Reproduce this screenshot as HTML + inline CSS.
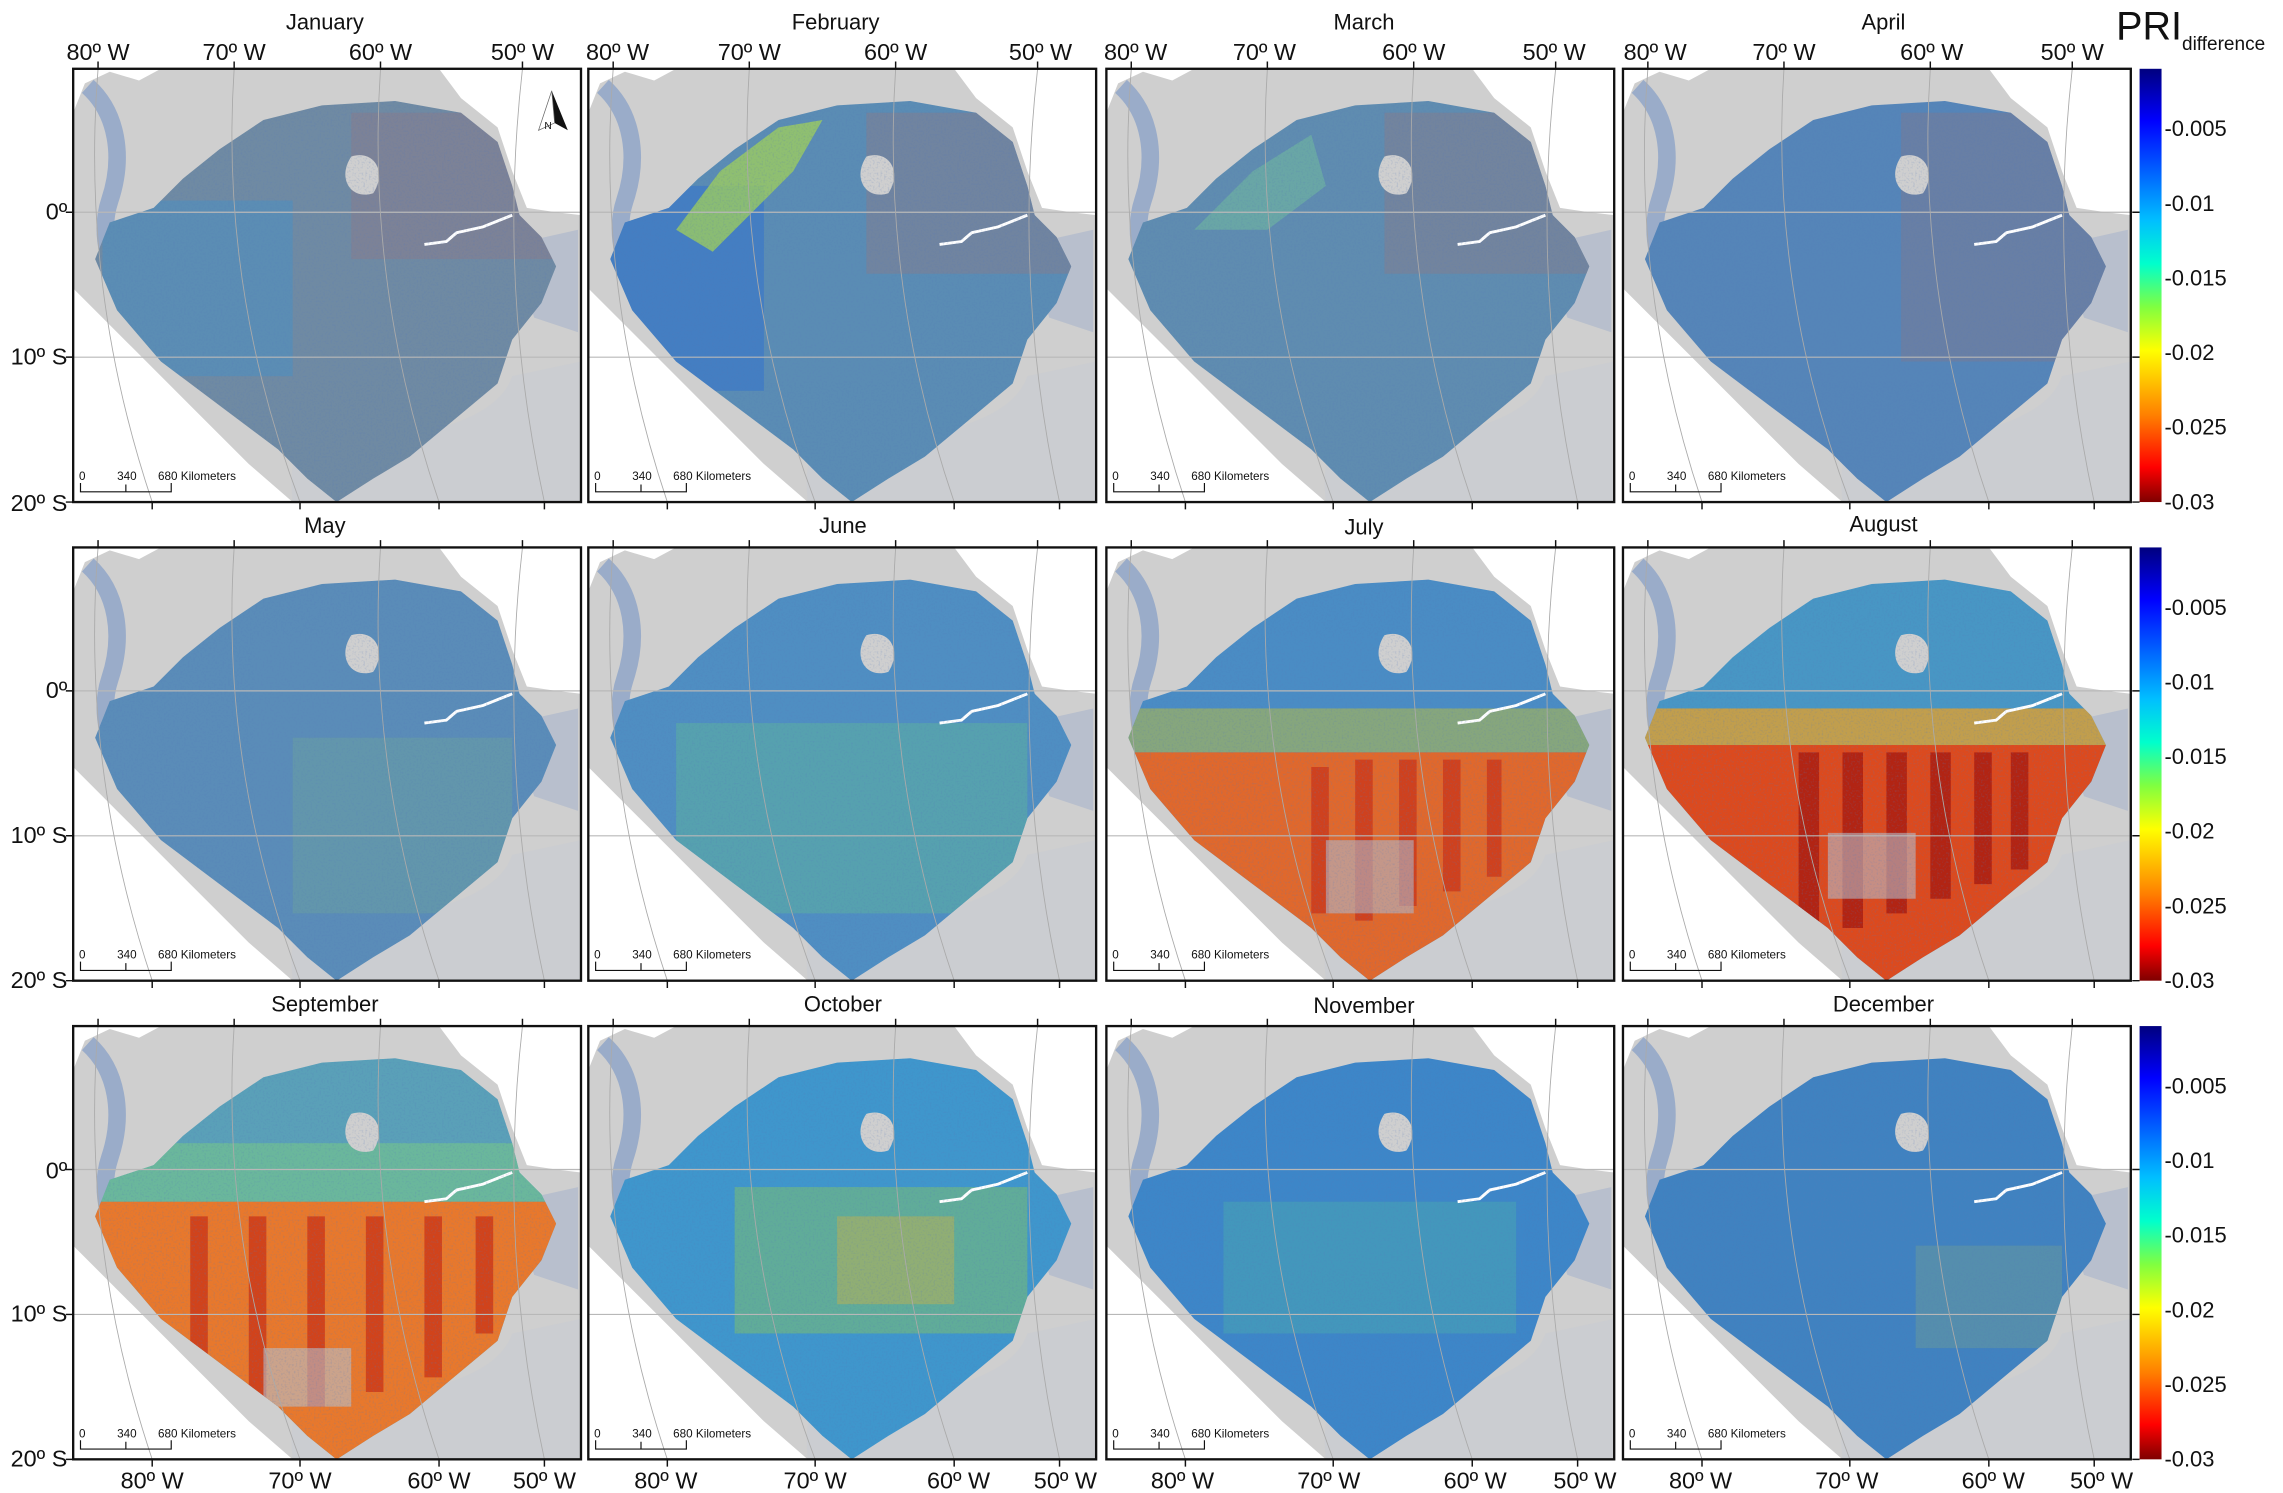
<!DOCTYPE html>
<html><head><meta charset="utf-8"><style>
html,body{margin:0;padding:0;background:#fff;}
svg{display:block;}
text{font-family:"Liberation Sans",Arial,sans-serif;fill:#111;}
</style></head><body>
<svg width="2283" height="1493" viewBox="0 0 1560 1020" preserveAspectRatio="none" xmlns="http://www.w3.org/2000/svg">
<defs>
<clipPath id="pc"><rect x="0" y="0" width="347" height="296"/></clipPath>
<clipPath id="ac"><path d="M55,95 L75,75 100,55 130,35 170,25 220,22 265,30 290,50 300,80 305,100 320,115 330,135 320,160 300,185 290,215 260,240 230,265 205,280 180,296 160,280 140,260 100,230 60,200 30,165 15,130 25,105 Z"/></clipPath>
<linearGradient id="cb" x1="0" y1="0" x2="0" y2="1">
<stop offset="0" stop-color="#00007f"/><stop offset="0.12" stop-color="#0000ff"/><stop offset="0.35" stop-color="#00bfff"/><stop offset="0.45" stop-color="#00ffcc"/><stop offset="0.55" stop-color="#80ff40"/><stop offset="0.65" stop-color="#ffff00"/><stop offset="0.8" stop-color="#ff7f00"/><stop offset="0.92" stop-color="#ff0000"/><stop offset="1" stop-color="#7f0000"/>
</linearGradient>
<filter id="spk" x="0" y="0" width="100%" height="100%"><feTurbulence type="fractalNoise" baseFrequency="0.8" numOctaves="1" seed="4"/><feColorMatrix type="matrix" values="0 0 0 0 0.1  0 0 0 0 0.2  0 0 0 0 0.5  0 0 0 2.2 -1.1"/></filter>
<g id="base">
<rect x="0" y="0" width="347" height="296" fill="#fff"/>
<path d="M0,30 L8,10 25,2 45,8 60,0 250,0 265,20 290,40 300,70 310,95 330,98 347,100 347,296 150,296 120,270 80,230 40,190 10,160 0,150 Z" fill="#cfcfcf"/>
<path d="M10,12 C30,30 35,60 25,90 C15,120 30,160 70,200" stroke="#6f8fc4" stroke-width="12" fill="none" opacity="0.55"/>
<path d="M300,120 L345,110 345,180 315,170 Z" fill="#a8b4cc" opacity="0.6"/>
<path d="M150,296 C145,250 165,240 200,255 C240,250 290,240 300,210 L347,200 L347,296 Z" fill="#c8ccd4" opacity="0.5"/>
</g>
<path id="amz" d="M55,95 L75,75 100,55 130,35 170,25 220,22 265,30 290,50 300,80 305,100 320,115 330,135 320,160 300,185 290,215 260,240 230,265 205,280 180,296 160,280 140,260 100,230 60,200 30,165 15,130 25,105 Z"/>
<g id="top">
<path d="M190,60 C205,55 215,70 205,85 C190,90 180,75 190,60 Z" fill="#cfcfcf"/>
<path d="M240,120 L255,118 262,112 280,108 300,100" stroke="#fff" stroke-width="2" fill="none"/>
<rect x="0" y="0" width="347" height="296" filter="url(#spk)" clip-path="url(#ac)" opacity="0.35"/>
<line x1="0" y1="98" x2="347" y2="98" stroke="#b8b8b8" stroke-width="0.8"/>
<line x1="0" y1="197" x2="347" y2="197" stroke="#b8b8b8" stroke-width="0.8"/>
<path d="M17,0 Q5,150 54,296 M110,0 Q100,150 155,296 M210,0 Q200,150 250,296 M307,0 Q290,150 322,296" stroke="#aaa" stroke-width="0.6" fill="none"/>
</g>
<g id="frame">
<rect x="0" y="0" width="347" height="296" fill="none" stroke="#111" stroke-width="1.6"/>
<path d="M17,0 v-5 M110,0 v-5 M210,0 v-5 M307,0 v-5 M54,296 v5 M155,296 v5 M250,296 v5 M322,296 v5" stroke="#111" stroke-width="1"/>
<path d="M5,283 v6 h62 v-6 M36,289 v-5" stroke="#111" stroke-width="0.8" fill="none"/>
<text x="4" y="281" font-size="8">0</text><text x="30" y="281" font-size="8">340</text><text x="58" y="281" font-size="8">680 Kilometers</text>
</g>
<g id="cbar">
<rect x="0" y="0" width="15" height="296" fill="url(#cb)"/>
<path d="M-5,98 h5 M-5,197 h5 M-5,296 h5" stroke="#111" stroke-width="1"/>
<text x="17" y="46" font-size="15">-0.005</text><text x="17" y="97" font-size="15">-0.01</text><text x="17" y="148" font-size="15">-0.015</text><text x="17" y="199" font-size="15">-0.02</text><text x="17" y="250" font-size="15">-0.025</text><text x="17" y="301" font-size="15">-0.03</text>
</g>
</defs>

<!-- Row 1 -->
<g transform="translate(50,47)"><g clip-path="url(#pc)"><use href="#base"/><use href="#amz" fill="#6f8aa3"/><g clip-path="url(#ac)"><rect x="20" y="90" width="130" height="120" fill="#4f8fbf" opacity="0.6"/><rect x="190" y="30" width="140" height="100" fill="#8a7a8c" opacity="0.5"/></g><use href="#top"/></g><use href="#frame"/>
<path d="M327,15 L338,42 329,37 Z" fill="#111"/><path d="M327,15 L318,42 329,37 Z" fill="#fff" stroke="#666" stroke-width="0.5"/><text x="322" y="41" font-size="7">N</text></g>
<g transform="translate(402,47)"><g clip-path="url(#pc)"><use href="#base"/><use href="#amz" fill="#5a8cb4"/><g clip-path="url(#ac)"><rect x="0" y="80" width="120" height="140" fill="#3a78c8" opacity="0.7"/><path d="M60,110 L90,70 130,40 160,35 140,70 110,100 85,125 Z" fill="#9ccc60" opacity="0.8"/><rect x="190" y="30" width="140" height="110" fill="#867c8c" opacity="0.5"/></g><use href="#top"/></g><use href="#frame"/></g>
<g transform="translate(756,47)"><g clip-path="url(#pc)"><use href="#base"/><use href="#amz" fill="#5f8cb0"/><g clip-path="url(#ac)"><path d="M60,110 L100,70 140,45 150,80 110,110 Z" fill="#70b8a0" opacity="0.6"/><rect x="190" y="30" width="140" height="110" fill="#867c8c" opacity="0.5"/></g><use href="#top"/></g><use href="#frame"/></g>
<g transform="translate(1109,47)"><g clip-path="url(#pc)"><use href="#base"/><use href="#amz" fill="#5585b8"/><g clip-path="url(#ac)"><rect x="190" y="30" width="140" height="170" fill="#80788e" opacity="0.45"/></g><use href="#top"/></g><use href="#frame"/></g>

<!-- Row 2 -->
<g transform="translate(50,374)"><g clip-path="url(#pc)"><use href="#base"/><use href="#amz" fill="#5a8cb8"/><g clip-path="url(#ac)"><rect x="150" y="130" width="150" height="120" fill="#6aa0a0" opacity="0.5"/></g><use href="#top"/></g><use href="#frame"/></g>
<g transform="translate(402,374)"><g clip-path="url(#pc)"><use href="#base"/><use href="#amz" fill="#4f8ec2"/><g clip-path="url(#ac)"><rect x="60" y="120" width="240" height="130" fill="#5cb0a0" opacity="0.55"/></g><use href="#top"/></g><use href="#frame"/></g>
<g transform="translate(756,374)"><g clip-path="url(#pc)"><use href="#base"/><use href="#amz" fill="#4a8cc4"/><g clip-path="url(#ac)"><rect x="0" y="110" width="347" height="30" fill="#a0b060" opacity="0.7"/><rect x="0" y="140" width="347" height="160" fill="#e0682c"/><path d="M140,150 h12 v100 h-12 Z M170,145 h12 v110 h-12 Z M200,145 h12 v100 h-12 Z M230,145 h12 v90 h-12 Z M260,145 h10 v80 h-10 Z" fill="#c83018" opacity="0.7"/><rect x="150" y="200" width="60" height="50" fill="#b0b8c8" opacity="0.6"/></g><use href="#top"/></g><use href="#frame"/></g>
<g transform="translate(1109,374)"><g clip-path="url(#pc)"><use href="#base"/><use href="#amz" fill="#4896c4"/><g clip-path="url(#ac)"><rect x="0" y="110" width="347" height="30" fill="#e0a030" opacity="0.8"/><rect x="0" y="135" width="347" height="170" fill="#dc4a1e"/><path d="M120,140 h14 v120 h-14 Z M150,140 h14 v120 h-14 Z M180,140 h14 v110 h-14 Z M210,140 h14 v100 h-14 Z M240,140 h12 v90 h-12 Z M265,140 h12 v80 h-12 Z" fill="#a81a10" opacity="0.8"/><rect x="140" y="195" width="60" height="45" fill="#b8bcc8" opacity="0.6"/></g><use href="#top"/></g><use href="#frame"/></g>

<!-- Row 3 -->
<g transform="translate(50,701)"><g clip-path="url(#pc)"><use href="#base"/><use href="#amz" fill="#5aa0b8"/><g clip-path="url(#ac)"><rect x="0" y="80" width="347" height="40" fill="#70c090" opacity="0.7"/><rect x="0" y="120" width="347" height="180" fill="#e8782c"/><path d="M80,130 h12 v130 h-12 Z M120,130 h12 v140 h-12 Z M160,130 h12 v130 h-12 Z M200,130 h12 v120 h-12 Z M240,130 h12 v110 h-12 Z M275,130 h12 v80 h-12 Z" fill="#c82c14" opacity="0.7"/><rect x="130" y="220" width="60" height="40" fill="#b8c0cc" opacity="0.6"/></g><use href="#top"/></g><use href="#frame"/></g>
<g transform="translate(402,701)"><g clip-path="url(#pc)"><use href="#base"/><use href="#amz" fill="#3f96cc"/><g clip-path="url(#ac)"><rect x="100" y="110" width="200" height="100" fill="#7cc070" opacity="0.55"/><rect x="170" y="130" width="80" height="60" fill="#c0b050" opacity="0.5"/></g><use href="#top"/></g><use href="#frame"/></g>
<g transform="translate(756,701)"><g clip-path="url(#pc)"><use href="#base"/><use href="#amz" fill="#3d86c8"/><g clip-path="url(#ac)"><rect x="80" y="120" width="200" height="90" fill="#4aa8b0" opacity="0.5"/></g><use href="#top"/></g><use href="#frame"/></g>
<g transform="translate(1109,701)"><g clip-path="url(#pc)"><use href="#base"/><use href="#amz" fill="#4082c0"/><g clip-path="url(#ac)"><rect x="200" y="150" width="100" height="70" fill="#6a9a9a" opacity="0.5"/></g><use href="#top"/></g><use href="#frame"/></g>

<!-- Titles -->
<g font-size="15" text-anchor="middle">
<text x="222" y="20">January</text><text x="571" y="20">February</text><text x="932" y="20">March</text><text x="1287" y="20">April</text>
<text x="222" y="364">May</text><text x="576" y="364">June</text><text x="932" y="365">July</text><text x="1287" y="363">August</text>
<text x="222" y="691">September</text><text x="576" y="691">October</text><text x="932" y="692">November</text><text x="1287" y="691">December</text>
</g>
<!-- Top lon labels -->
<g font-size="16" text-anchor="middle">
<text x="67" y="41">80º W</text><text x="160" y="41">70º W</text><text x="260" y="41">60º W</text><text x="357" y="41">50º W</text>
<text x="422" y="41">80º W</text><text x="512" y="41">70º W</text><text x="612" y="41">60º W</text><text x="711" y="41">50º W</text>
<text x="776" y="41">80º W</text><text x="864" y="41">70º W</text><text x="966" y="41">60º W</text><text x="1062" y="41">50º W</text>
<text x="1131" y="41">80º W</text><text x="1219" y="41">70º W</text><text x="1320" y="41">60º W</text><text x="1416" y="41">50º W</text>
<!-- bottom -->
<text x="104" y="1017">80º W</text><text x="205" y="1017">70º W</text><text x="300" y="1017">60º W</text><text x="372" y="1017">50º W</text>
<text x="455" y="1017">80º W</text><text x="557" y="1017">70º W</text><text x="655" y="1017">60º W</text><text x="728" y="1017">50º W</text>
<text x="808" y="1017">80º W</text><text x="908" y="1017">70º W</text><text x="1008" y="1017">60º W</text><text x="1083" y="1017">50º W</text>
<text x="1162" y="1017">80º W</text><text x="1262" y="1017">70º W</text><text x="1362" y="1017">60º W</text><text x="1436" y="1017">50º W</text>
</g>
<!-- Lat labels -->
<g font-size="16" text-anchor="end">
<text x="46" y="150">0º</text><text x="46" y="249">10º S</text><text x="46" y="349">20º S</text>
<text x="46" y="477">0º</text><text x="46" y="576">10º S</text><text x="46" y="675">20º S</text>
<text x="46" y="805">0º</text><text x="46" y="903">10º S</text><text x="46" y="1002">20º S</text>
</g>
<path d="M45,145 h5 M45,244 h5 M45,343 h5 M45,472 h5 M45,571 h5 M45,670 h5 M45,799 h5 M45,898 h5 M45,997 h5" stroke="#111" stroke-width="1"/>
<!-- Colorbars -->
<g transform="translate(1462,47)"><use href="#cbar"/></g>
<g transform="translate(1462,374)"><use href="#cbar"/></g>
<g transform="translate(1462,701)"><use href="#cbar"/></g>
<text x="1446" y="27" font-size="27">PRI</text><text x="1491" y="34" font-size="13">difference</text>
</svg>
</body></html>
